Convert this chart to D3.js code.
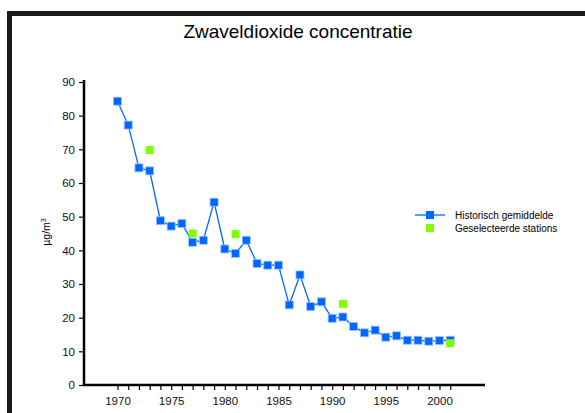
<!DOCTYPE html>
<html>
<head>
<meta charset="utf-8">
<script src="https://cdn.jsdelivr.net/npm/d3@7"></script>
<style>
  body { margin: 0; background: #fff; }
  svg { display: block; font-family: "Liberation Sans", Arial, sans-serif; }
</style>
</head>
<body>
<svg width="585" height="413"></svg>
<script>
// yearly averages (historisch gemiddelde)
var years = d3.range(1970, 2002);
var historisch = [84.3, 77.2, 64.5, 63.6, 48.8, 47.2, 48.0, 42.4, 43.0, 54.3,
    40.4, 39.1, 43.0, 36.1, 35.6, 35.6, 23.8, 32.7, 23.3, 24.7,
    19.8, 20.2, 17.4, 15.5, 16.3, 14.2, 14.6, 13.3, 13.3, 13.0,
    13.2, 13.3];
// selected stations
var stationYears = [1973, 1977, 1981, 1991, 2001];
var stations = [69.8, 45.0, 44.8, 24.1, 12.4];
var yTicks = [0, 10, 20, 30, 40, 50, 60, 70, 80, 90];
var xLabels = [1970, 1975, 1980, 1985, 1990, 1995, 2000];

var blue = "#0066ff";
var green = "#80ff00";

var svg = d3.select("svg");

// frame
svg.append("rect")
    .attr("x", 9.5).attr("y", 13.5)
    .attr("width", 600).attr("height", 420)
    .attr("fill", "none")
    .attr("stroke", "#1a1a1a")
    .attr("stroke-width", 5);

svg.append("text")
    .attr("x", 298).attr("y", 38)
    .attr("text-anchor", "middle")
    .attr("font-size", 19)
    .text("Zwaveldioxide concentratie");

var x = d3.scaleLinear().domain([1966.88, 2004.24]).range([84, 485]);
var y = d3.scaleLinear().domain([0, 90]).range([385, 82]);

// y axis
var yAxis = svg.append("g")
    .attr("transform", "translate(84,0)")
    .call(d3.axisLeft(y).tickValues(yTicks).tickSize(5).tickPadding(4));
yAxis.select(".domain").attr("stroke-width", 2.5).attr("d", "M0,80V386");
yAxis.selectAll(".tick line").attr("stroke-width", 1.2);
yAxis.selectAll("text").attr("font-size", 11.5).attr("fill", "#111");

// x axis, tick per year, labels every 5
var xAxis = svg.append("g")
    .attr("transform", "translate(0,385)")
    .call(d3.axisBottom(x).tickValues(years).tickSize(5).tickPadding(7)
        .tickFormat(function (d) { return xLabels.indexOf(d) >= 0 ? d : ""; }));
xAxis.select(".domain").attr("stroke-width", 2.5).attr("d", "M83,0H485");
xAxis.selectAll(".tick line").attr("stroke-width", 1.2);
xAxis.selectAll("text").attr("font-size", 11.5).attr("fill", "#111");

// y label
svg.append("text")
    .attr("transform", "translate(50,232) rotate(-90)")
    .attr("text-anchor", "middle")
    .attr("font-size", 10.5)
    .html("µg/m<tspan font-size='7' dy='-4'>3</tspan>");

// line
var line = d3.line()
    .x(function (d, i) { return x(years[i]); })
    .y(function (d) { return y(d); });

svg.append("path")
    .datum(historisch)
    .attr("d", line)
    .attr("fill", "none")
    .attr("stroke", blue)
    .attr("stroke-width", 1.3);

svg.selectAll(".hist")
    .data(historisch)
    .enter()
    .append("rect")
    .attr("class", "hist")
    .attr("x", function (d, i) { return x(years[i]) - 4; })
    .attr("y", function (d) { return y(d) - 4; })
    .attr("width", 8).attr("height", 8)
    .attr("fill", blue)
    .attr("stroke", "#9cc4ff")
    .attr("stroke-width", 0.8);

svg.selectAll(".stat")
    .data(stations)
    .enter()
    .append("rect")
    .attr("class", "stat")
    .attr("x", function (d, i) { return x(stationYears[i]) - 4; })
    .attr("y", function (d) { return y(d) - 4; })
    .attr("width", 8).attr("height", 8)
    .attr("fill", green);

// legend
var legend = svg.append("g").attr("transform", "translate(415,215)");
legend.append("line")
    .attr("x1", 0).attr("x2", 30)
    .attr("stroke", blue).attr("stroke-width", 1.3);
legend.append("rect")
    .attr("x", 11).attr("y", -4).attr("width", 8).attr("height", 8)
    .attr("fill", blue);
legend.append("rect")
    .attr("x", 11).attr("y", 9).attr("width", 8).attr("height", 8)
    .attr("fill", green);
legend.append("text")
    .attr("x", 40).attr("y", 3.5)
    .attr("font-size", 10)
    .text("Historisch gemiddelde");
legend.append("text")
    .attr("x", 40).attr("y", 16.5)
    .attr("font-size", 10)
    .text("Geselecteerde stations");
</script>
</body>
</html>
